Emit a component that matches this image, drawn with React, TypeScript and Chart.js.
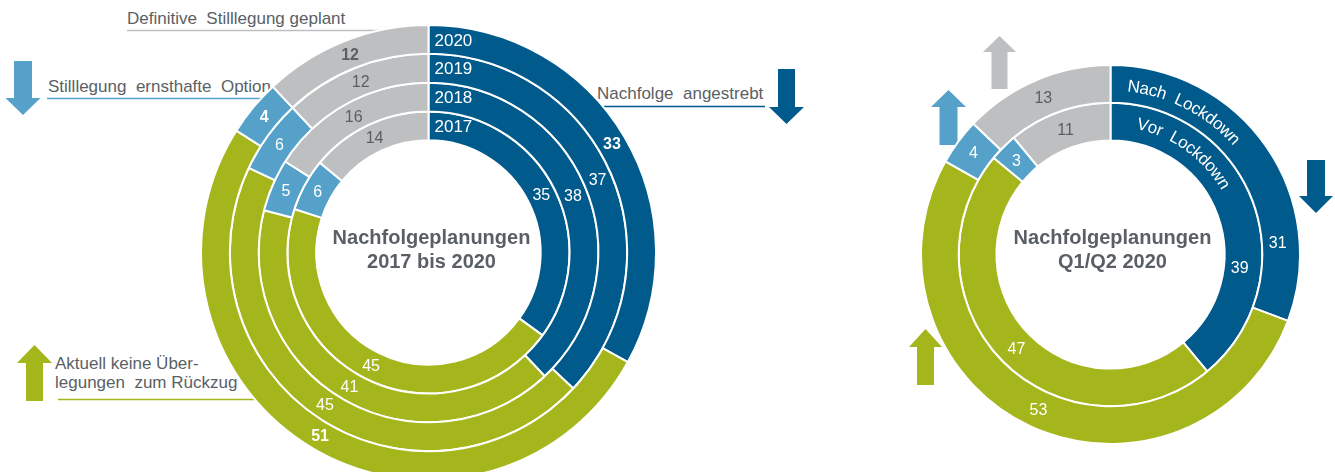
import React, { useEffect, useRef } from 'react';
import { Chart, registerables } from 'chart.js';

Chart.register(...registerables);

// ---------- data ----------
const categories = [
  'Nachfolge angestrebt',
  'Aktuell keine Überlegungen zum Rückzug',
  'Stilllegung ernsthafte Option',
  'Definitive Stilllegung geplant',
];
// left chart: outer ring first
const years = ['2020', '2019', '2018', '2017'];
const values2020 = [33, 51, 4, 12];
const values2019 = [37, 45, 6, 12];
const values2018 = [38, 41, 5, 16];
const values2017 = [35, 45, 6, 14];
// right chart: outer ring first
const phases = ['Nach  Lockdown', 'Vor  Lockdown'];
const valuesNach = [31, 53, 4, 13];
const valuesVor = [39, 47, 3, 11];

const titleLeft = ['Nachfolgeplanungen', '2017 bis 2020'];
const titleRight = ['Nachfolgeplanungen', 'Q1/Q2 2020'];

// ---------- styles ----------
const COLORS = ['#005a8c', '#a5b51c', '#55a1c9', '#bdbfc1'];
const LABEL_COLORS = ['#ffffff', '#ffffff', '#ffffff', '#5a5f66'];
const TEXT = '#5a5f66';
const FONT = '"Liberation Sans", Arial, Helvetica, sans-serif';

const ringLabels = {
  id: 'ringLabels',
  afterDatasetsDraw(chart: any, _args: any, opts: any) {
    const ctx = chart.ctx;
    ctx.save();
    let cx = 0;
    let cy = 0;
    chart.data.datasets.forEach((ds: any, di: number) => {
      const meta = chart.getDatasetMeta(di);
      const bold = opts.boldRings && opts.boldRings[di];
      meta.data.forEach((arc: any, i: number) => {
        const p = arc.getProps(['x', 'y', 'startAngle', 'endAngle', 'innerRadius', 'outerRadius'], true);
        cx = p.x;
        cy = p.y;
        let a = (p.startAngle + p.endAngle) / 2;
        const ov = opts.angleOverrides && opts.angleOverrides[di] ? opts.angleOverrides[di][i] : null;
        if (ov != null) a = -Math.PI / 2 + (ov * Math.PI) / 180;
        const r = (p.innerRadius + p.outerRadius) / 2 + (ov != null ? -3 : 0);
        ctx.font = `${bold ? 'bold ' : ''}16px ${FONT}`;
        ctx.fillStyle = LABEL_COLORS[i];
        ctx.textAlign = 'center';
        ctx.textBaseline = 'middle';
        ctx.fillText(String(ds.data[i]), p.x + Math.cos(a) * r, p.y + Math.sin(a) * r + 1);
      });
      // ring names
      const first = meta.data[0].getProps(['x', 'y', 'innerRadius', 'outerRadius'], true);
      const rm = (first.innerRadius + first.outerRadius) / 2;
      ctx.fillStyle = '#ffffff';
      if (opts.ringNameMode === 'straight') {
        ctx.font = `17px ${FONT}`;
        ctx.textAlign = 'left';
        ctx.textBaseline = 'middle';
        ctx.fillText(ds.label, first.x + 6, first.y - rm + 1.5);
      } else {
        ctx.font = `17px ${FONT}`;
        ctx.textAlign = 'center';
        ctx.textBaseline = 'middle';
        const rr = rm + (opts.curveOffsets ? opts.curveOffsets[di] : 0);
        let theta = ((opts.curveStart ? opts.curveStart[di] : 6) * Math.PI) / 180;
        for (const ch of ds.label) {
          const w = ctx.measureText(ch).width;
          const t = theta + w / 2 / rr;
          ctx.save();
          ctx.translate(first.x + rr * Math.sin(t), first.y - rr * Math.cos(t));
          ctx.rotate(t);
          ctx.fillText(ch, 0, 0);
          ctx.restore();
          theta += w / rr;
        }
      }
    });
    // centre title
    if (opts.title) {
      ctx.font = `bold 20px ${FONT}`;
      ctx.fillStyle = TEXT;
      ctx.textAlign = 'center';
      ctx.textBaseline = 'alphabetic';
      opts.title.forEach((t: string, k: number) => {
        ctx.fillText(t, cx + opts.titleDx, cy + opts.titleDy[k]);
      });
    }
    ctx.restore();
  },
};

function makeDataset(label: string, data: number[]) {
  return {
    label,
    data,
    backgroundColor: COLORS,
    borderColor: '#ffffff',
    borderWidth: 2,
    hoverOffset: 0,
    hoverBorderWidth: 2,
  };
}

type Arrow = { x: number; y: number; dir: 'up' | 'down'; color: string; shaftW: number; headW: number; shaftL: number; headL: number };

function arrowPoints(a: Arrow) {
  const s = a.shaftW / 2;
  const h = a.headW / 2;
  if (a.dir === 'down') {
    const yb = a.y + a.shaftL;
    return [
      [a.x - s, a.y], [a.x + s, a.y], [a.x + s, yb], [a.x + h, yb],
      [a.x, yb + a.headL], [a.x - h, yb], [a.x - s, yb],
    ].map((p) => p.join(',')).join(' ');
  }
  const yh = a.y + a.headL;
  return [
    [a.x, a.y], [a.x + h, yh], [a.x + s, yh], [a.x + s, yh + a.shaftL],
    [a.x - s, yh + a.shaftL], [a.x - s, yh], [a.x - h, yh],
  ].map((p) => p.join(',')).join(' ');
}

const arrows: Arrow[] = [
  { x: 23, y: 61, dir: 'down', color: COLORS[2], shaftW: 18, headW: 35, shaftL: 37, headL: 17 },
  { x: 786.5, y: 69, dir: 'down', color: COLORS[0], shaftW: 17, headW: 35, shaftL: 38, headL: 17 },
  { x: 34.5, y: 345, dir: 'up', color: COLORS[1], shaftW: 17, headW: 35, shaftL: 38, headL: 18 },
  { x: 999.5, y: 36, dir: 'up', color: COLORS[3], shaftW: 16, headW: 33, shaftL: 37, headL: 16 },
  { x: 948.5, y: 90, dir: 'up', color: COLORS[2], shaftW: 18, headW: 35, shaftL: 38, headL: 17 },
  { x: 1316, y: 160, dir: 'down', color: COLORS[0], shaftW: 18, headW: 34, shaftL: 36, headL: 17 },
  { x: 925.5, y: 329, dir: 'up', color: COLORS[1], shaftW: 17, headW: 33, shaftL: 38, headL: 18 },
];

export default function App() {
  const leftRef = useRef<HTMLCanvasElement>(null);
  const rightRef = useRef<HTMLCanvasElement>(null);

  useEffect(() => {
    const left = new Chart(leftRef.current as HTMLCanvasElement, {
      type: 'doughnut',
      data: {
        labels: categories,
        datasets: [
          makeDataset(years[0], values2020),
          makeDataset(years[1], values2019),
          makeDataset(years[2], values2018),
          makeDataset(years[3], values2017),
        ],
      },
      options: {
        responsive: false,
        animation: false,
        events: [],
        cutout: '49.3%',
        layout: { padding: 0 },
        plugins: {
          legend: { display: false },
          tooltip: { enabled: false },
          ringLabels: {
            boldRings: [true, false, false, false],
            ringNameMode: 'straight',
            title: titleLeft,
            titleDx: 3,
            titleDy: [-9, 15],
          },
        } as any,
      },
      plugins: [ringLabels as any],
    });
    const right = new Chart(rightRef.current as HTMLCanvasElement, {
      type: 'doughnut',
      data: {
        labels: categories,
        datasets: [makeDataset(phases[0], valuesNach), makeDataset(phases[1], valuesVor)],
      },
      options: {
        responsive: false,
        animation: false,
        events: [],
        cutout: '60.2%',
        layout: { padding: 0 },
        plugins: {
          legend: { display: false },
          tooltip: { enabled: false },
          ringLabels: {
            boldRings: [false, false],
            ringNameMode: 'curved',
            curveStart: [5.8, 11.5],
            curveOffsets: [-2, 0],
            angleOverrides: [[86, null, null, null], [96, null, null, null]],
            title: titleRight,
            titleDx: 2,
            titleDy: [-11, 13],
          },
        } as any,
      },
      plugins: [ringLabels as any],
    });
    return () => {
      left.destroy();
      right.destroy();
    };
  }, []);

  const textStyle: React.CSSProperties = { whiteSpace: 'pre', fontFamily: FONT, fontSize: 17 };

  return (
    <div style={{ position: 'fixed', left: 0, top: 0, width: 1335, height: 472, overflow: 'hidden', background: '#fff' }}>
      <svg width={1335} height={472} style={{ position: 'absolute', left: 0, top: 0 }}>
        <line x1={127} y1={30.5} x2={392} y2={30.5} stroke={COLORS[3]} strokeWidth={1.5} />
        <line x1={47} y1={98.5} x2={282} y2={98.5} stroke={COLORS[2]} strokeWidth={1.5} />
        <line x1={594} y1={106.5} x2={765} y2={106.5} stroke={COLORS[0]} strokeWidth={1.5} />
        <line x1={58} y1={399.5} x2={262} y2={399.5} stroke={COLORS[1]} strokeWidth={1.5} />
        <text x={127} y={24} fill={TEXT} style={textStyle}>{'Definitive  Stilllegung geplant'}</text>
        <text x={48} y={92} fill={TEXT} style={textStyle}>{'Stilllegung  ernsthafte  Option'}</text>
        <text x={597} y={99} fill={TEXT} style={textStyle}>{'Nachfolge  angestrebt'}</text>
        <text x={55} y={369} fill={TEXT} style={textStyle}>{'Aktuell keine Über-'}</text>
        <text x={55} y={388} fill={TEXT} style={textStyle}>{'legungen  zum Rückzug'}</text>
        {arrows.map((a, k) => (
          <polygon key={k} points={arrowPoints(a)} fill={a.color} />
        ))}
      </svg>
      <canvas ref={leftRef} width={457} height={457} style={{ position: 'absolute', left: 200, top: 24 }} />
      <canvas ref={rightRef} width={381} height={381} style={{ position: 'absolute', left: 920, top: 64 }} />
    </div>
  );
}
